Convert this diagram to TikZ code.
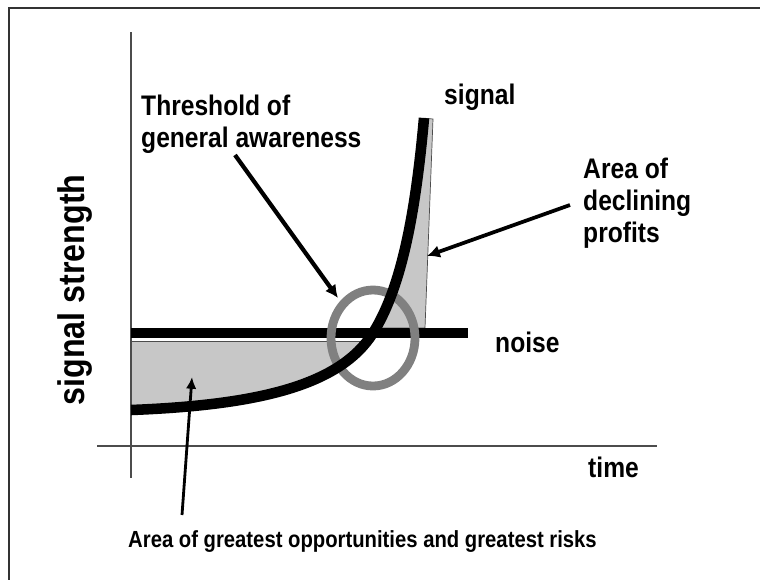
\documentclass[tikz,border=0pt]{standalone}
\usepackage{fontspec}
\setmainfont{Liberation Sans}
\usetikzlibrary{arrows.meta}

\tikzset{
  lbl/.style={font=\bfseries\fontsize{21}{23.5}\selectfont, inner sep=0pt, align=left, yscale=1.15},
  pointer/.style={line width=3.6pt, -{Latex[length=11pt,width=11pt]}},
  areafill/.style={fill=black!22, draw=black!70, line width=0.6pt},
}

\begin{document}
\begin{tikzpicture}[x=0.03cm, y=-0.03cm]
\useasboundingbox (0,0) rectangle (760,579);
\clip (0,0) rectangle (760,579);
% frame, open at right and bottom
\draw[black!80, line width=2.5pt] (9,600) -- (9,8) -- (780,8);
% axes
\draw[black!70, line width=1.2pt] (131,32) -- (131,478);
\draw[black!70, line width=1.2pt] (97,446) -- (657,446);
% area below the noise, above the signal
\begin{scope}
\clip (131,410) .. controls (260,405) and (340,385) .. (373,333)
  .. controls (400,290) and (415,220) .. (424,118) -- (131,118) -- cycle;
\draw[areafill] (131,341) rectangle (430,430);
\end{scope}
% area right of the signal, above the noise
\begin{scope}
\clip (131,410) .. controls (260,405) and (340,385) .. (373,333)
  .. controls (400,290) and (415,220) .. (424,118) -- (540,100) -- (540,430) -- cycle;
\draw[areafill] (400,116) -- (433,119) -- (425,328) -- (340,328) -- cycle;
\end{scope}
% noise
\draw[line width=8.5pt] (131,333) -- (468,333);
% threshold ring
\draw[black!50, line width=7.5pt] (373,338) ellipse [x radius=1.26cm, y radius=1.44cm];
% signal
\draw[line width=9pt] (131,410) .. controls (260,405) and (340,385) .. (373,333)
  .. controls (400,290) and (415,220) .. (424,118);

% labels
\node[lbl, anchor=north west] (threshold) at (141,95) {Threshold of\\general awareness};
\node[lbl, anchor=base west] (signallbl) at (444,104) {signal};
\node[lbl, anchor=north west] (declining) at (583,158) {Area of\\declining\\profits};
\node[lbl, anchor=base west] (noiselbl) at (495,352) {noise};
\node[lbl, anchor=base west] (timelbl) at (588,477) {time};
\node[font=\bfseries\fontsize{27.5}{30}\selectfont, inner sep=0pt, rotate=90, yscale=1.15, anchor=base] (strength) at (84,290) {signal strength};
\node[lbl, font=\bfseries\fontsize{17.3}{20}\selectfont, anchor=base west] (greatest) at (128,547) {Area of greatest opportunities and greatest risks};

% pointers
\coordinate (thrFrom) at (235,155);
\coordinate (thrTo) at (338,298);
\coordinate (decFrom) at (570,205);
\coordinate (decTo) at (427,256);
\coordinate (grtFrom) at (182,515);
\coordinate (grtTo) at (192,377);
\draw[pointer] (thrFrom) -- (thrTo);
\draw[pointer, line width=3.2pt] (decFrom) -- (decTo);
\draw[pointer, line width=2.4pt, -{Latex[length=10pt,width=9pt]}] (grtFrom) -- (grtTo);
\end{tikzpicture}
\end{document}
